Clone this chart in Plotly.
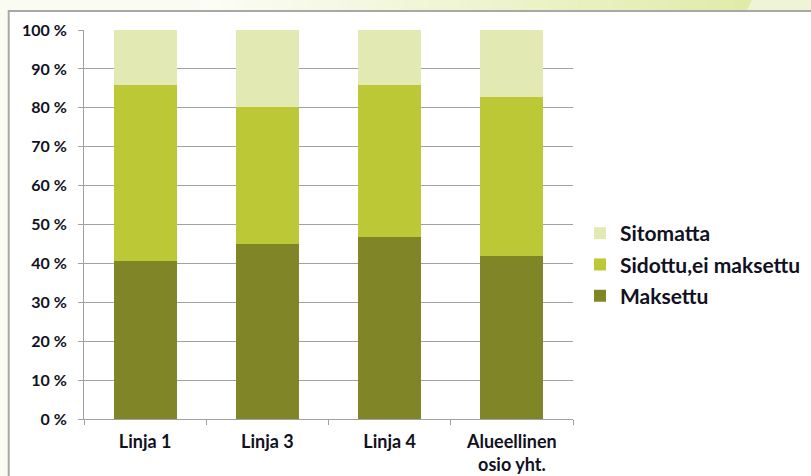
import plotly.graph_objects as go

categories = ["Linja 1", "Linja 3", "Linja 4", "Alueellinen<br>osio yht."]
maksettu = [40.6, 45.1, 46.7, 41.9]
sidottu = [45.2, 35.2, 39.1, 41.0]
sitomatta = [14.2, 19.7, 14.2, 17.1]
series_names = ["Maksettu", "Sidottu,ei maksettu", "Sitomatta"]
series_colors = ["#808528", "#BDC837", "#E3E9B2"]
legend_ranks = [3, 2, 1]
y_ticks = [0, 10, 20, 30, 40, 50, 60, 70, 80, 90, 100]
y_tick_labels = [f"{v} %" for v in y_ticks]

W, H = 811, 476
L, R, T, B = 84, 238, 30, 57
PW, PH = W - L - R, H - T - B


def px(x):
    return (x - L) / PW


def py(y):
    return (H - B - y) / PH


FONT = "Lato"
TXT = "#111122"

fig = go.Figure()
for name, vals, col, rk in zip(series_names, [maksettu, sidottu, sitomatta], series_colors, legend_ranks):
    fig.add_trace(go.Bar(
        x=categories, y=vals, name=name, marker=dict(color=col, line=dict(width=0)),
        legendgroup=name, legendrank=rk,
    ))

shapes = []
# top gradient strip
x0, x1 = 200, 752
n = 60
c0 = (252, 253, 246)
c1 = (225, 235, 168)
for i in range(n):
    f = i / (n - 1)
    c = tuple(int(round(c0[k] + (c1[k] - c0[k]) * f)) for k in range(3))
    xa = x0 + (x1 - x0) * i / n
    xb = x0 + (x1 - x0) * (i + 1) / n + 0.6
    shapes.append(dict(type="rect", xref="paper", yref="paper", x0=px(xa), x1=px(xb),
                       y0=py(10), y1=py(0), fillcolor="rgb(%d,%d,%d)" % c, line=dict(width=0),
                       layer="below"))
shapes.append(dict(type="path", xref="paper", yref="paper",
                   path="M %f %f L %f %f L %f %f L %f %f Z" % (px(752), py(0), px(811), py(0), px(811), py(10), px(747), py(10)),
                   fillcolor="#EFF4D6", line=dict(width=0), layer="below"))
# white frame
shapes.append(dict(type="rect", xref="paper", yref="paper", x0=px(8.7), x1=px(815), y0=py(480), y1=py(11),
                   fillcolor="white", line=dict(color="#A8A8A8", width=2), layer="below"))

fig.update_layout(
    width=W, height=H,
    margin=dict(l=L, r=R, t=T, b=B, autoexpand=False),
    paper_bgcolor="#FAFBF2",
    plot_bgcolor="rgba(0,0,0,0)",
    barmode="stack",
    bargap=0.485,
    shapes=shapes,
    font=dict(family=FONT, color=TXT, size=16, weight="bold"),
    legend=dict(
        xref="container", yref="container",
        x=580 / W, y=(H - 213) / H, xanchor="left", yanchor="top",
        traceorder="grouped", tracegroupgap=1,
        font=dict(family=FONT, size=21, color=TXT, weight="bold"),
        bgcolor="rgba(0,0,0,0)",
    ),
    xaxis=dict(
        showline=True, linecolor="#A0A0A0", linewidth=1,
        ticks="outside", ticklen=5, tickcolor="#A0A0A0", tickson="boundaries",
        tickfont=dict(family=FONT, size=18, color=TXT, weight="bold"),
        ticklabelstandoff=6,
        showgrid=False, automargin=False,
    ),
    yaxis=dict(
        range=[0, 100], tickvals=y_ticks, ticktext=y_tick_labels,
        showline=True, linecolor="#A0A0A0", linewidth=1,
        ticks="outside", ticklen=5, tickcolor="#A0A0A0",
        showgrid=True, gridcolor="#A0A0A0", gridwidth=1,
        zeroline=False, automargin=False,
        ticklabelstandoff=8,
        tickfont=dict(family=FONT, size=16, color=TXT, weight="bold"),
    ),
)

fig.write_html("out.html", config={"displayModeBar": False},
               post_script="document.body.style.margin='0px';document.body.style.overflow='hidden';")
